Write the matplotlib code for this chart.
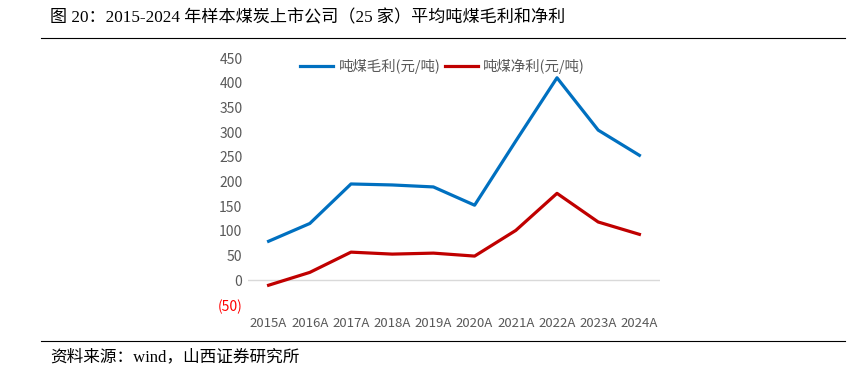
import matplotlib.pyplot as plt
from matplotlib.ticker import FuncFormatter

plt.rcParams['font.family'] = ['Noto Sans CJK SC', 'DejaVu Sans']

# 数据
years = ['2015A', '2016A', '2017A', '2018A', '2019A', '2020A', '2021A', '2022A', '2023A', '2024A']
gross_profit = [79, 115, 195, 193, 189, 152, 282, 410, 304, 253]
net_profit = [-10, 16, 57, 53, 55, 49, 101, 176, 118, 93]
y_ticks = [-50, 0, 50, 100, 150, 200, 250, 300, 350, 400, 450]

title = "图 20：2015-2024 年样本煤炭上市公司（25 家）平均吨煤毛利和净利"
source = "资料来源：wind，山西证券研究所"

fig = plt.figure(figsize=(8.48, 3.66), dpi=100)
ax = fig.add_axes([248 / 848, 0.1667, (660 - 248) / 848, 0.8415 - 0.1667])

x = range(len(years))
ax.plot(x, gross_profit, color='#0070C0', lw=2.3, label='吨煤毛利(元/吨)')
ax.plot(x, net_profit, color='#C00000', lw=2.3, label='吨煤净利(元/吨)')
ax.axhline(0, color='#D9D9D9', lw=1, zorder=0)

ax.set_xlim(-0.5, 9.5)
ax.set_ylim(-50, 450)
ax.set_xticks(list(x))
ax.set_xticklabels(years)
ax.set_yticks(y_ticks)
ax.yaxis.set_major_formatter(FuncFormatter(lambda v, p: f"({abs(int(v))})" if v < 0 else f"{int(v)}"))
ax.tick_params(axis='both', length=0, labelsize=10, colors='#595959')
ax.tick_params(axis='x', pad=9, labelsize=9.5)
ax.tick_params(axis='y', pad=4)
for lab, v in zip(ax.get_yticklabels(), y_ticks):
    if v < 0:
        lab.set_color('#FF0000')
for s in ax.spines.values():
    s.set_visible(False)

leg = ax.legend(loc='center', bbox_to_anchor=(0.472, 0.965), ncol=2, frameon=False,
                fontsize=10.4, handlelength=2.3, handletextpad=0.35, columnspacing=0.3)
for t in leg.get_texts():
    t.set_color('#595959')

# 标题和来源
serif = ['Liberation Serif', 'Noto Sans CJK SC']
fig.text(50 / 848, 1 - 18 / 366, title, fontsize=12.3, family=serif, va='center', ha='left')
fig.add_artist(plt.Line2D([41 / 848, 845 / 848], [1 - 38 / 366] * 2, color='black', lw=0.8))
fig.add_artist(plt.Line2D([41 / 848, 845 / 848], [1 - 341 / 366] * 2, color='black', lw=0.8))
fig.text(50 / 848, 1 - 357 / 366, source, fontsize=12, family=serif, va='center', ha='left')

fig.savefig('out.png', dpi=100)
